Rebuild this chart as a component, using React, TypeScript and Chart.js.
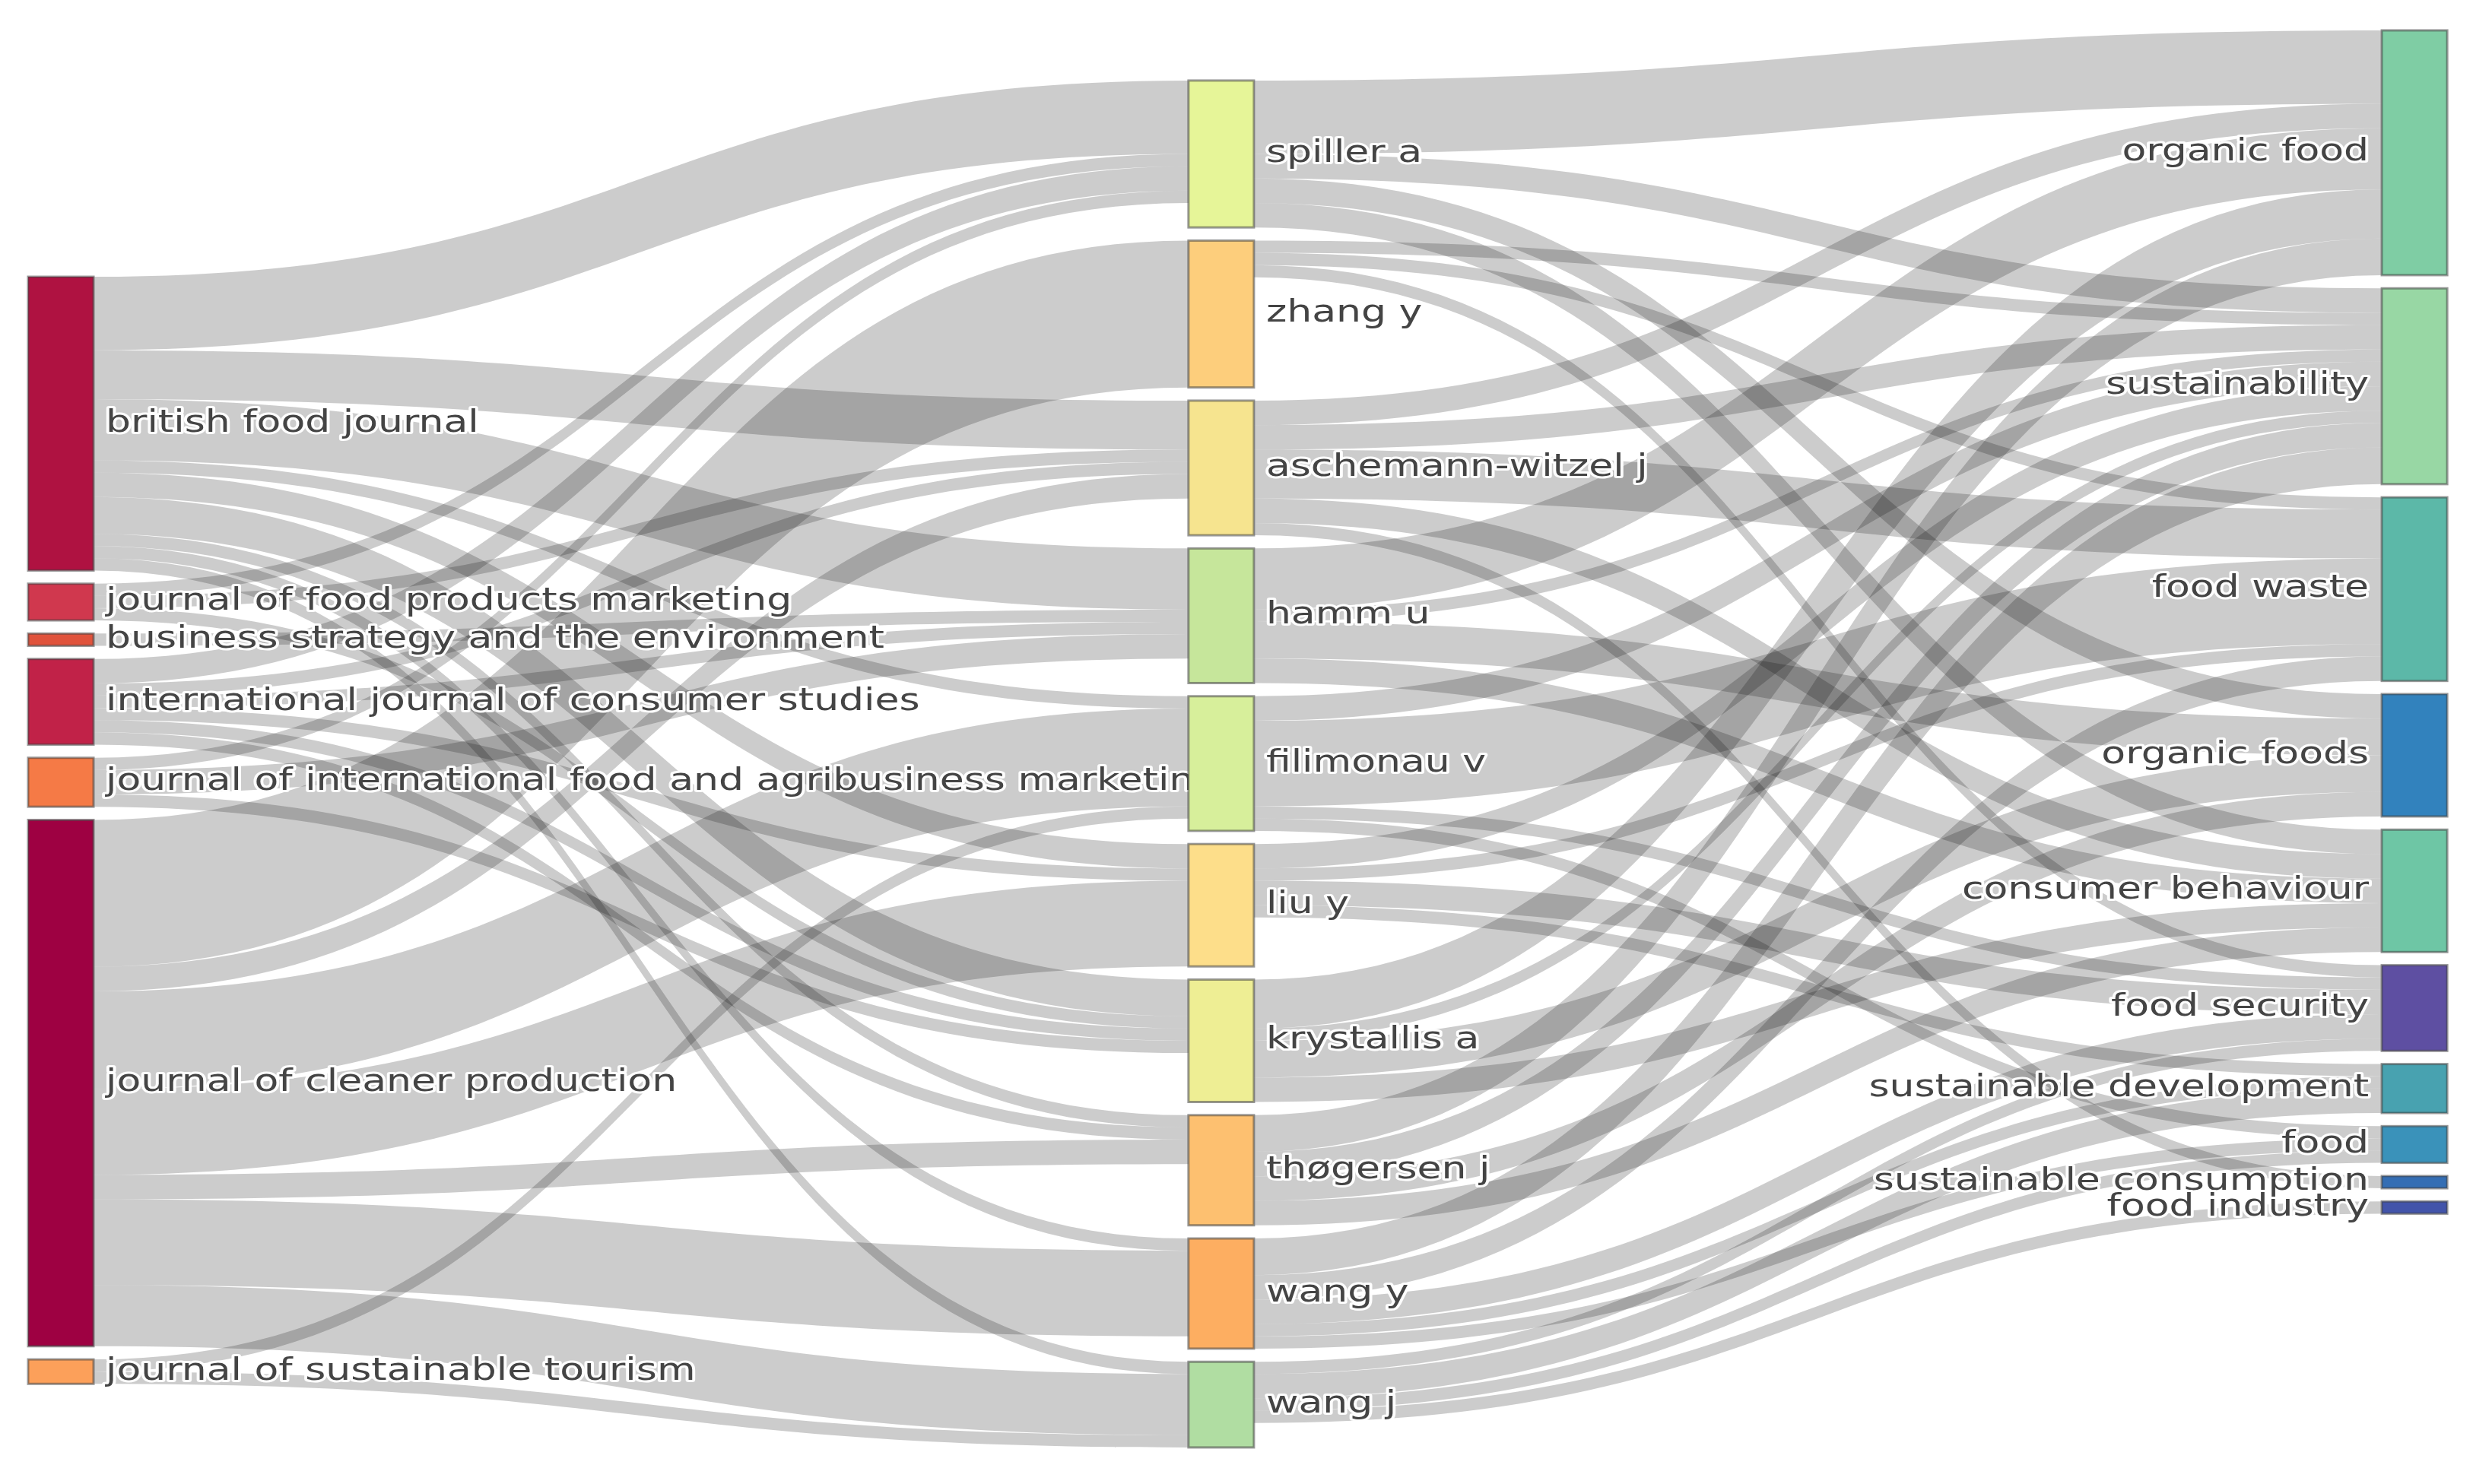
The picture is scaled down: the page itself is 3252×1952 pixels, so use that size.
import React, { useEffect, useRef } from "react";
import { Chart, registerables } from "chart.js";

Chart.register(...registerables);

// ---------- data ----------
const SOURCES = [
  "british food journal",
  "journal of food products marketing",
  "business strategy and the environment",
  "international journal of consumer studies",
  "journal of international food and agribusiness marketing",
  "journal of cleaner production",
  "journal of sustainable tourism",
];
const SOURCE_COLORS = ["#AF1241", "#D0384E", "#E0533C", "#C12248", "#F57A46", "#9E0142", "#FCA05A"];

const AUTHORS = [
  "spiller a",
  "zhang y",
  "aschemann-witzel j",
  "hamm u",
  "filimonau v",
  "liu y",
  "krystallis a",
  "thøgersen j",
  "wang y",
  "wang j",
];
const AUTHOR_COLORS = ["#E6F598", "#FDCE7C", "#F6E48F", "#C6E69B", "#D7EF9B", "#FDDE8A", "#EEEE94", "#FDC070", "#FDAE61", "#B0DDA2"];

const KEYWORDS = [
  "organic food",
  "sustainability",
  "food waste",
  "organic foods",
  "consumer behaviour",
  "food security",
  "sustainable development",
  "food",
  "sustainable consumption",
  "food industry",
];
const KEYWORD_COLORS = ["#7FCDA4", "#98D7A4", "#5CB8A8", "#3282BD", "#6EC6A5", "#5E4FA2", "#48A2B0", "#3A92BA", "#346EB4", "#4254AA"];

// rows: sources, columns: authors
const SOURCE_AUTHOR_LINKS = [
  [6, 0, 4, 5, 1, 2, 3, 1, 1, 1],
  [1, 0, 1, 0, 0, 0, 1, 0, 0, 0],
  [0, 0, 0, 1, 0, 0, 0, 0, 0, 0],
  [2, 0, 1, 1, 0, 1, 1, 1, 0, 0],
  [1, 0, 0, 2, 0, 0, 1, 0, 0, 0],
  [0, 12, 2, 0, 8, 7, 0, 2, 7, 5],
  [0, 0, 0, 0, 1, 0, 0, 0, 0, 1],
];

// rows: authors, columns: keywords
const AUTHOR_KEYWORD_LINKS = [
  [6, 2, 0, 2, 2, 0, 0, 0, 0, 0],
  [0, 1, 1, 0, 0, 1, 0, 0, 0, 0],
  [2, 2, 4, 0, 2, 0, 0, 0, 1, 0],
  [5, 1, 0, 3, 2, 0, 0, 0, 0, 0],
  [0, 2, 7, 0, 0, 1, 0, 1, 0, 0],
  [0, 2, 1, 0, 0, 2, 1, 0, 0, 0],
  [4, 1, 0, 3, 2, 0, 0, 0, 0, 0],
  [3, 2, 0, 2, 2, 0, 0, 0, 0, 0],
  [0, 3, 2, 0, 0, 2, 1, 1, 0, 0],
  [0, 0, 0, 0, 0, 1, 2, 1, 0, 1],
];

// ---------- layout constants ----------
const W = 3252;
const H = 1952;
const X_MIN = -0.0239;
const X_MAX = 2.0775;
const Y_MAX = 121.24;
const COLUMN_X = [0, 0.986, 2];
const COLUMN_TOP = [22.61, 6.58, 2.48];
const NODE_GAP = 1.075;
const NODE_WIDTH = 0.0556;
const LINK_COLOR = "rgba(0,0,0,0.2)";
const FONT = '40px "DejaVu Sans", Verdana, sans-serif';
const TEXT_STRETCH = 1.3;

type NodeBox = { y0: number; y1: number; label: string; color: string };

function sum(a: number[]) {
  return a.reduce((s, v) => s + v, 0);
}

function computeLayout() {
  const srcVals = SOURCE_AUTHOR_LINKS.map((r) => sum(r));
  const authIn = AUTHORS.map((_, j) => sum(SOURCE_AUTHOR_LINKS.map((r) => r[j])));
  const authOut = AUTHOR_KEYWORD_LINKS.map((r) => sum(r));
  const authVals = AUTHORS.map((_, j) => Math.max(authIn[j], authOut[j]));
  const kwVals = KEYWORDS.map((_, k) => sum(AUTHOR_KEYWORD_LINKS.map((r) => r[k])));

  const stack = (labels: string[], colors: string[], vals: number[], top: number): NodeBox[] => {
    let y = top;
    return labels.map((label, i) => {
      const box = { y0: y, y1: y + vals[i], label, color: colors[i] };
      y += vals[i] + NODE_GAP;
      return box;
    });
  };
  const columns = [
    stack(SOURCES, SOURCE_COLORS, srcVals, COLUMN_TOP[0]),
    stack(AUTHORS, AUTHOR_COLORS, authVals, COLUMN_TOP[1]),
    stack(KEYWORDS, KEYWORD_COLORS, kwVals, COLUMN_TOP[2]),
  ];

  const links: { col: number; v: number; ys: number; yt: number }[] = [];
  const matrices = [SOURCE_AUTHOR_LINKS, AUTHOR_KEYWORD_LINKS];
  matrices.forEach((m, c) => {
    const srcCol = columns[c];
    const tgtCol = columns[c + 1];
    const outOffset = srcCol.map((n) => n.y0);
    const inOffset = tgtCol.map((n) => n.y0);
    const temp: { s: number; t: number; v: number; ys: number; yt: number }[] = [];
    for (let s = 0; s < m.length; s++) {
      for (let t = 0; t < m[s].length; t++) {
        const v = m[s][t];
        if (!v) continue;
        temp.push({ s, t, v, ys: outOffset[s], yt: 0 });
        outOffset[s] += v;
      }
    }
    for (let t = 0; t < tgtCol.length; t++) {
      for (let s = 0; s < m.length; s++) {
        const l = temp.find((q) => q.s === s && q.t === t);
        if (!l) continue;
        l.yt = inOffset[t];
        inOffset[t] += l.v;
      }
    }
    temp.forEach((l) => links.push({ col: c, v: l.v, ys: l.ys, yt: l.yt }));
  });
  return { columns, links };
}

const sankeyPlugin = {
  id: "sankeyDraw",
  afterDatasetsDraw(chart: any) {
    const { ctx } = chart;
    const xs = chart.scales.x;
    const ys = chart.scales.y;
    const { columns, links } = computeLayout();
    const px = (v: number) => xs.getPixelForValue(v);
    const py = (v: number) => ys.getPixelForValue(v);

    ctx.save();
    links.forEach((l) => {
      const x0 = px(COLUMN_X[l.col] + NODE_WIDTH);
      const x1 = px(COLUMN_X[l.col + 1]);
      const xm = (x0 + x1) / 2;
      const a0 = py(l.ys);
      const b0 = py(l.ys + l.v);
      const a1 = py(l.yt);
      const b1 = py(l.yt + l.v);
      ctx.beginPath();
      ctx.moveTo(x0, a0);
      ctx.bezierCurveTo(xm, a0, xm, a1, x1, a1);
      ctx.lineTo(x1, b1);
      ctx.bezierCurveTo(xm, b1, xm, b0, x0, b0);
      ctx.closePath();
      ctx.fillStyle = LINK_COLOR;
      ctx.fill();
    });

    ctx.font = FONT;
    ctx.textBaseline = "middle";
    columns.forEach((col, c) => {
      const xl = px(COLUMN_X[c]);
      const xr = px(COLUMN_X[c] + NODE_WIDTH);
      col.forEach((n) => {
        const top = py(n.y0);
        const bot = py(n.y1);
        ctx.fillStyle = n.color;
        ctx.fillRect(xl, top, xr - xl, bot - top);
        ctx.strokeStyle = "rgba(68,68,68,0.55)";
        ctx.lineWidth = 3;
        ctx.strokeRect(xl, top, xr - xl, bot - top);
      });
      col.forEach((n) => {
        const cy = (py(n.y0) + py(n.y1)) / 2;
        const right = c === 2;
        const ax = right ? xl - 17 : xr + 16;
        ctx.save();
        ctx.translate(ax, cy);
        ctx.scale(TEXT_STRETCH, 1);
        ctx.textAlign = right ? "right" : "left";
        ctx.lineJoin = "round";
        ctx.strokeStyle = "rgba(255,255,255,0.95)";
        ctx.lineWidth = 6;
        ctx.strokeText(n.label, 0, 0);
        ctx.fillStyle = "#444";
        ctx.fillText(n.label, 0, 0);
        ctx.restore();
      });
    });
    ctx.restore();
  },
};

export default function App() {
  const ref = useRef<HTMLCanvasElement | null>(null);
  useEffect(() => {
    document.body.style.margin = "0";
    if (!ref.current) return;
    const chart = new Chart(ref.current, {
      type: "scatter",
      data: { datasets: [{ data: [], pointRadius: 0 }] },
      options: {
        responsive: false,
        animation: false,
        devicePixelRatio: 1,
        layout: { padding: 0 },
        plugins: { legend: { display: false }, tooltip: { enabled: false } },
        scales: {
          x: { type: "linear", min: X_MIN, max: X_MAX, display: false },
          y: { type: "linear", min: 0, max: Y_MAX, reverse: true, display: false },
        },
      },
      plugins: [sankeyPlugin],
    });
    return () => chart.destroy();
  }, []);
  return (
    <div style={{ position: "absolute", left: 0, top: 0, width: W, height: H, background: "#fff" }}>
      <canvas ref={ref} width={W} height={H} style={{ display: "block" }} />
    </div>
  );
}
